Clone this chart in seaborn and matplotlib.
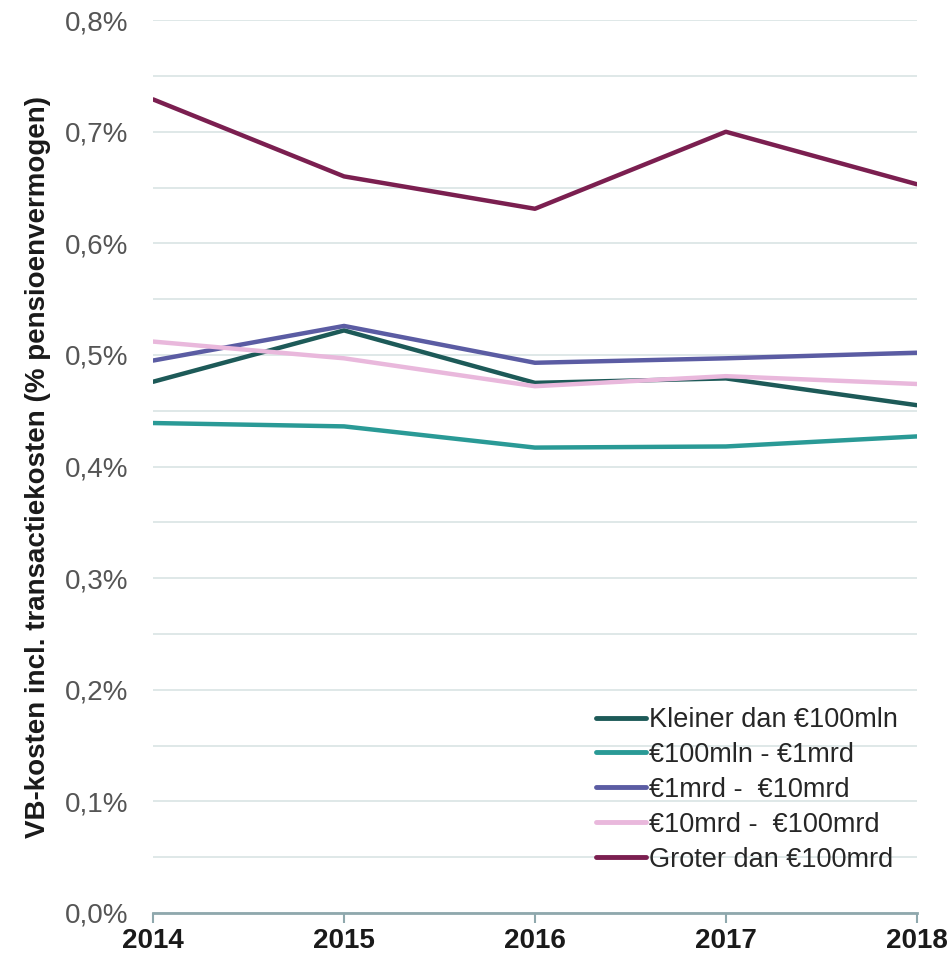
import matplotlib
matplotlib.use("Agg")
import matplotlib.pyplot as plt
import seaborn as sns
import pandas as pd
import numpy as np
from matplotlib.ticker import FuncFormatter, MultipleLocator

years = [2014, 2015, 2016, 2017, 2018]
series_names = ["Kleiner dan €100mln", "€100mln - €1mrd", "€1mrd -  €10mrd",
                "€10mrd -  €100mrd", "Groter dan €100mrd"]
kleiner = [0.476, 0.522, 0.475, 0.479, 0.455]
mln100_mrd1 = [0.439, 0.436, 0.417, 0.418, 0.427]
mrd1_mrd10 = [0.495, 0.526, 0.493, 0.497, 0.502]
mrd10_mrd100 = [0.512, 0.497, 0.472, 0.481, 0.474]
groter = [0.729, 0.660, 0.631, 0.700, 0.653]
colors = ["#1d5a58", "#2a9a96", "#5b5ca3", "#e9b8dc", "#7b1f50"]

values = [kleiner, mln100_mrd1, mrd1_mrd10, mrd10_mrd100, groter]
df = pd.DataFrame({
    "jaar": np.tile(years, len(series_names)),
    "waarde": np.concatenate(values),
    "serie": np.repeat(series_names, len(years)),
})

sns.set_style("white")
plt.rcParams["font.family"] = ["Liberation Sans", "DejaVu Sans"]

fig = plt.figure(figsize=(9.51, 9.6), dpi=100)
ax = fig.add_axes([0.161, 0.049, 0.803, 0.93])

sns.lineplot(data=df, x="jaar", y="waarde", hue="serie", hue_order=series_names,
             palette=colors, linewidth=3.2, ax=ax)

ax.set_xlim(2014, 2018)
ax.set_ylim(0, 0.8)
ax.yaxis.set_major_locator(MultipleLocator(0.1))
ax.yaxis.set_minor_locator(MultipleLocator(0.05))
ax.yaxis.set_major_formatter(FuncFormatter(lambda v, p: f"{v:.1f}%".replace(".", ",")))
ax.set_xticks(years)
ax.set_xticklabels([str(y) for y in years], fontweight="bold", fontsize=20, color="#1a1a1a")
ax.grid(True, which="both", axis="y", color="#d6e1e2", linewidth=1.1)
ax.set_axisbelow(True)
for s in ["left", "right", "top"]:
    ax.spines[s].set_visible(False)
ax.spines["bottom"].set_color("#8fa8ad")
ax.spines["bottom"].set_linewidth(2)
ax.tick_params(axis="x", which="major", direction="out", length=7, width=1.5,
               color="#8fa8ad", pad=4, bottom=True)
ax.tick_params(axis="y", which="both", length=0, labelsize=20, labelcolor="#555555", pad=18)
ax.set_xlabel("")
ax.set_ylabel("VB-kosten incl. transactiekosten (% pensioenvermogen)",
              fontsize=20, fontweight="bold", color="#1a1a1a", labelpad=10)

leg = ax.legend(loc="lower right", bbox_to_anchor=(0.975, 0.045), frameon=False,
                borderaxespad=0, borderpad=0,
                fontsize=19.5, handlelength=1.85, handletextpad=0.1, labelspacing=0.33)
for line in leg.get_lines():
    line.set_linewidth(3.5)

fig.savefig("out.png", dpi=100)
